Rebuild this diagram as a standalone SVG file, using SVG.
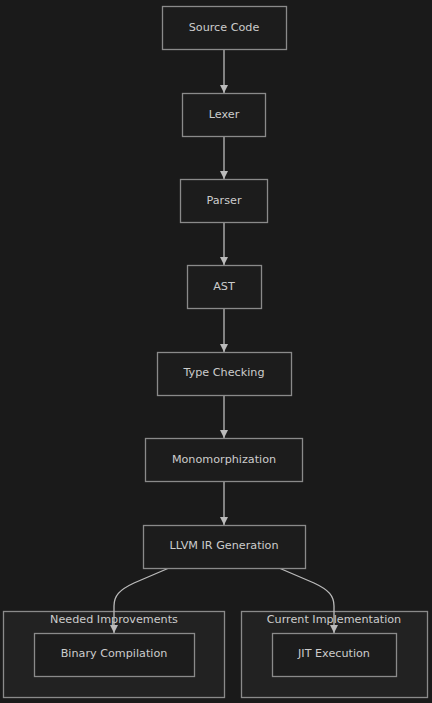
<svg xmlns="http://www.w3.org/2000/svg" width="432" height="703" viewBox="0 0 432 703">
<style>
.node rect{fill:#1c1c1c;stroke:#8a8a8a;stroke-width:1.3}
.cluster rect{fill:#222222;stroke:#8a8a8a;stroke-width:1.3}
text{font-family:"DejaVu Sans",sans-serif;font-size:11.2px;fill:#cccccc;text-anchor:middle;dominant-baseline:central}
.edges path{fill:none;stroke:#bbbbbb;stroke-width:1.3}
</style>
<defs>
<marker id="arr" viewBox="0 0 10 10" refX="10" refY="5" markerWidth="8" markerHeight="8" markerUnits="userSpaceOnUse" orient="auto">
<path d="M0,0 L10,5 L0,10 z" fill="#bbbbbb"/>
</marker>
</defs>
<rect width="432" height="703" fill="#1a1a1a"/>
<g id="cluster-needed" class="cluster"><rect x="3.5" y="611.5" width="221" height="86"/><text x="114" y="619">Needed Improvements</text></g>
<g id="cluster-current" class="cluster"><rect x="241.5" y="611.5" width="186" height="86"/><text x="334" y="619">Current Implementation</text></g>
<g class="edges">
<path d="M224,50 V93" marker-end="url(#arr)"/>
<path d="M224,136 V179" marker-end="url(#arr)"/>
<path d="M224,222 V265" marker-end="url(#arr)"/>
<path d="M224,308 V352" marker-end="url(#arr)"/>
<path d="M224,395 V438" marker-end="url(#arr)"/>
<path d="M224,481 V525" marker-end="url(#arr)"/>
<path d="M169,568 L134,583 C119,590 114,596 114,606 V633" marker-end="url(#arr)"/>
<path d="M279,568 L314,583 C329,590 334,596 334,606 V633" marker-end="url(#arr)"/>
</g>
<g id="source" class="node"><rect x="162.5" y="6.5" width="124" height="43"/><text x="224" y="27.5">Source Code</text></g>
<g id="lexer" class="node"><rect x="182.5" y="93.5" width="83" height="43"/><text x="224" y="114">Lexer</text></g>
<g id="parser" class="node"><rect x="180.5" y="179.5" width="87" height="43"/><text x="224" y="200.5">Parser</text></g>
<g id="ast" class="node"><rect x="187.5" y="265.5" width="74" height="43"/><text x="224" y="286.5">AST</text></g>
<g id="typecheck" class="node"><rect x="157.5" y="352.5" width="134" height="43"/><text x="224" y="372.5">Type Checking</text></g>
<g id="mono" class="node"><rect x="145.5" y="438.5" width="157" height="43"/><text x="224" y="459.5">Monomorphization</text></g>
<g id="llvm" class="node"><rect x="143.5" y="525.5" width="162" height="43"/><text x="224" y="545.5">LLVM IR Generation</text></g>
<g id="binary" class="node"><rect x="34.5" y="633.5" width="160" height="43"/><text x="114" y="653.5">Binary Compilation</text></g>
<g id="jit" class="node"><rect x="272.5" y="633.5" width="124" height="43"/><text x="334" y="653.5">JIT Execution</text></g>
</svg>
